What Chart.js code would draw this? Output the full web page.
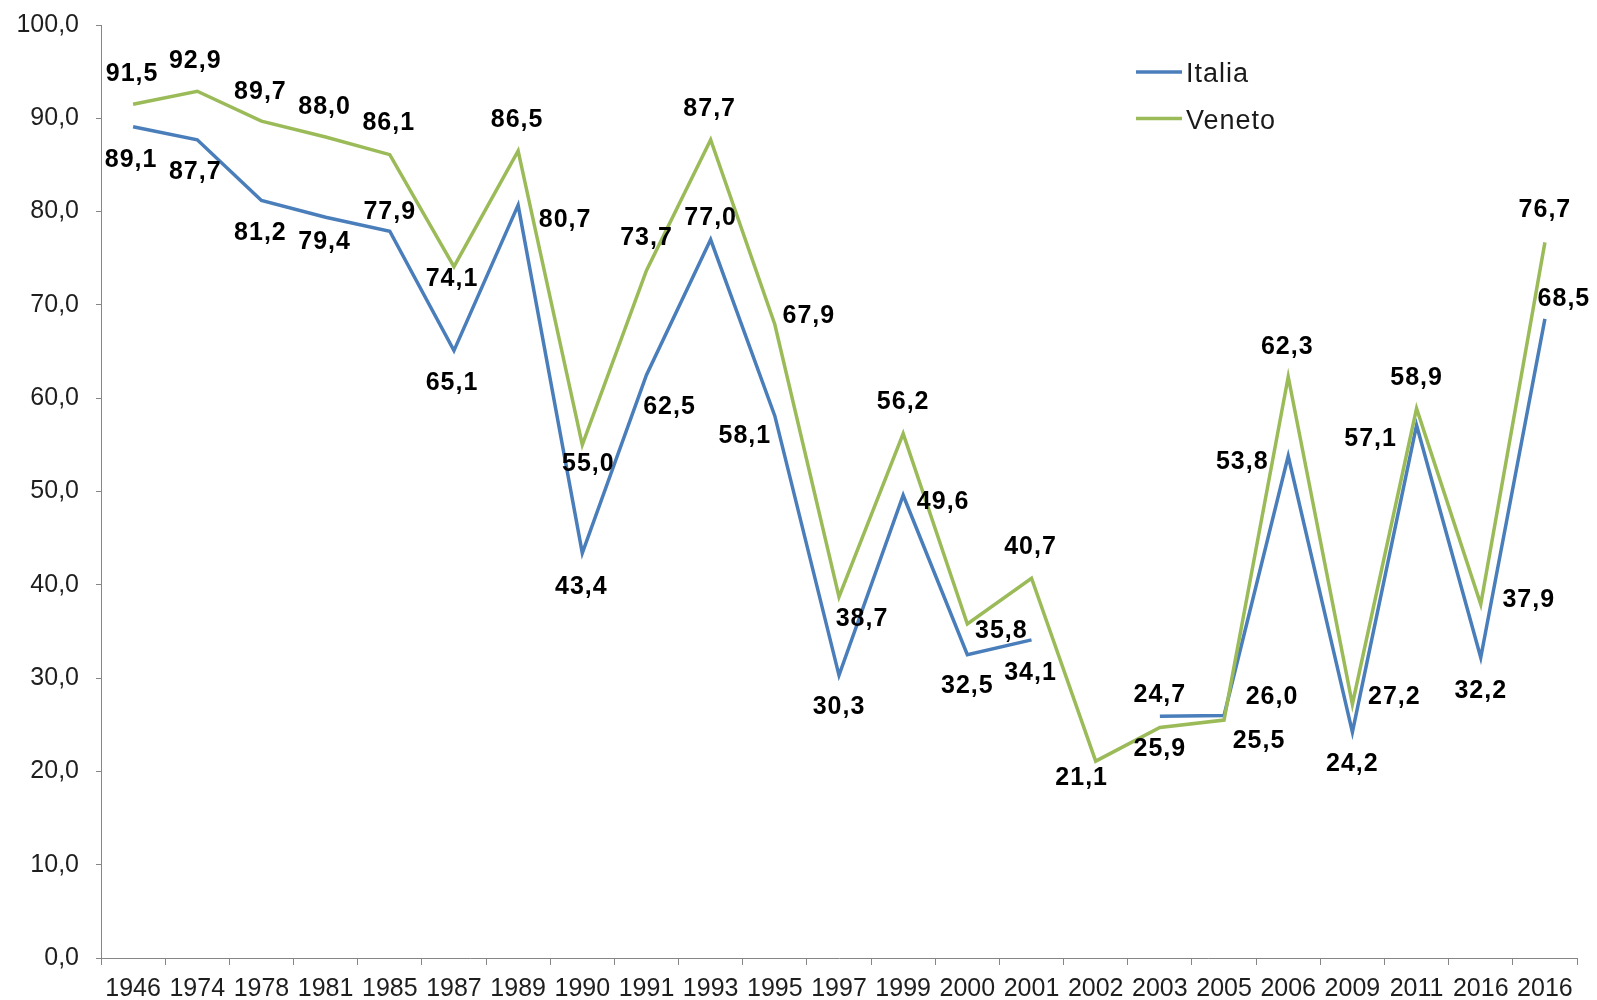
<!DOCTYPE html>
<html>
<head>
<meta charset="utf-8">
<script src="https://cdn.jsdelivr.net/npm/chart.js@4/dist/chart.umd.min.js"></script>
<style>
html,body{margin:0;padding:0;background:#ffffff;}
#wrap{width:1597px;height:1000px;}
</style>
</head>
<body>
<div id="wrap"><canvas id="c" width="1597" height="1000"></canvas></div>
<script>
// ---------- DATA ----------
const categories = ['1946','1974','1978','1981','1985','1987','1989','1990','1991','1993','1995','1997','1999','2000','2001','2002','2003','2005','2006','2009','2011','2016','2016'];
const italia = [89.1, 87.7, 81.2, 79.4, 77.9, 65.1, 80.7, 43.4, 62.5, 77.0, 58.1, 30.3, 49.6, 32.5, 34.1, null, 25.9, 26.0, 53.8, 24.2, 57.1, 32.2, 68.5];
const veneto = [91.5, 92.9, 89.7, 88.0, 86.1, 74.1, 86.5, 55.0, 73.7, 87.7, 67.9, 38.7, 56.2, 35.8, 40.7, 21.1, 24.7, 25.5, 62.3, 27.2, 58.9, 37.9, 76.7];
const seriesNames = ['Italia', 'Veneto'];
const yTickValues = [0, 10, 20, 30, 40, 50, 60, 70, 80, 90, 100];

// ---------- STYLE ----------
const FONT = '"Liberation Sans", Arial, Helvetica, sans-serif';
const colors = { Italia: '#4A7EBB', Veneto: '#9BBB59' };
const axisColor = '#868686';
const fmt = v => v.toFixed(1).replace('.', ',');

// label placement (pixel offsets from each point), per series
const labelOffsets = {
  Italia: [[-2,33],[-2,32],[-1,33],[-1,25],[0,-19],[-2,32],[47,15],[-1,34],[23,32],[0,-21],[-30,20],[0,32],[40,7],[0,31],[-1,33],[0,0],[0,33],[48,-18],[-46,6],[0,32],[-46,14],[0,34],[19,-20]],
  Veneto: [[-1,-30],[-2,-30],[-1,-29],[-1,-30],[-1,-32],[-2,12],[-1,-31],[6,19],[0,-32],[-1,-31],[34,-8],[23,22],[0,-32],[34,7],[-1,-31],[-14,17],[0,-32],[35,21],[-1,-30],[42,-7],[0,-30],[48,-4],[0,-32]]
};

const dataLabelPlugin = {
  id: 'dataLabels',
  afterDatasetsDraw(chart) {
    const ctx = chart.ctx;
    ctx.save();
    ctx.font = 'bold 25px ' + FONT;
    try { ctx.letterSpacing = '1px'; } catch (e) {}
    ctx.fillStyle = '#000000';
    ctx.textAlign = 'center';
    ctx.textBaseline = 'middle';
    chart.data.datasets.forEach((ds, di) => {
      const meta = chart.getDatasetMeta(di);
      const offs = labelOffsets[ds.label];
      meta.data.forEach((el, i) => {
        const v = ds.data[i];
        if (v === null || v === undefined) return;
        const o = offs[i] || [0, 0];
        ctx.fillText(fmt(v), el.x + o[0], el.y + o[1]);
      });
    });
    ctx.restore();
  }
};

const legendPlugin = {
  id: 'insideLegend',
  afterDraw(chart) {
    const ctx = chart.ctx;
    ctx.save();
    const x0 = 1136, x1 = 1182, tx = 1186;
    const rows = [72, 118.5];
    chart.data.datasets.forEach((ds, i) => {
      const y = rows[i];
      ctx.strokeStyle = ds.borderColor;
      ctx.lineWidth = 3.5;
      ctx.beginPath();
      ctx.moveTo(x0, y);
      ctx.lineTo(x1, y);
      ctx.stroke();
      ctx.font = '27px ' + FONT;
      try { ctx.letterSpacing = '1px'; } catch (e) {}
      ctx.fillStyle = '#1a1a1a';
      ctx.textAlign = 'left';
      ctx.textBaseline = 'alphabetic';
      ctx.fillText(ds.label, tx, y + 10);
    });
    ctx.restore();
  }
};

new Chart(document.getElementById('c'), {
  type: 'line',
  data: {
    labels: categories,
    datasets: [
      { label: seriesNames[0], data: italia, borderColor: colors.Italia, backgroundColor: colors.Italia,
        borderWidth: 3.5, pointRadius: 0, pointHoverRadius: 0, tension: 0, spanGaps: false, fill: false, order: 1 },
      { label: seriesNames[1], data: veneto, borderColor: colors.Veneto, backgroundColor: colors.Veneto,
        borderWidth: 3.5, pointRadius: 0, pointHoverRadius: 0, tension: 0, spanGaps: false, fill: false, order: 0 }
    ]
  },
  options: {
    responsive: false,
    animation: false,
    devicePixelRatio: 1,
    layout: { padding: { top: 25, right: 20, left: 0, bottom: 0 } },
    plugins: { legend: { display: false }, tooltip: { enabled: false } },
    scales: {
      x: {
        type: 'category',
        offset: true,
        grid: { offset: true, drawOnChartArea: false, drawTicks: true, tickLength: 7, color: axisColor, lineWidth: 1 },
        border: { display: true, color: axisColor, width: 1 },
        ticks: { font: { family: FONT, size: 25 }, color: '#1e1e1e', padding: 9, maxRotation: 0, minRotation: 0, autoSkip: false },
        afterFit(s) { s.height = 42; }
      },
      y: {
        min: yTickValues[0],
        max: yTickValues[yTickValues.length - 1],
        afterBuildTicks(s) { s.ticks = yTickValues.map(v => ({ value: v })); },
        grid: { drawOnChartArea: false, drawTicks: true, tickLength: 5, color: axisColor, lineWidth: 1 },
        border: { display: true, color: axisColor, width: 1 },
        ticks: { font: { family: FONT, size: 25 }, color: '#1e1e1e', padding: 17, callback: v => fmt(v) },
        afterFit(s) { s.width = 101; s.paddingTop = 0; s.paddingBottom = 0; }
      }
    }
  },
  plugins: [dataLabelPlugin, legendPlugin]
});
</script>
</body>
</html>
